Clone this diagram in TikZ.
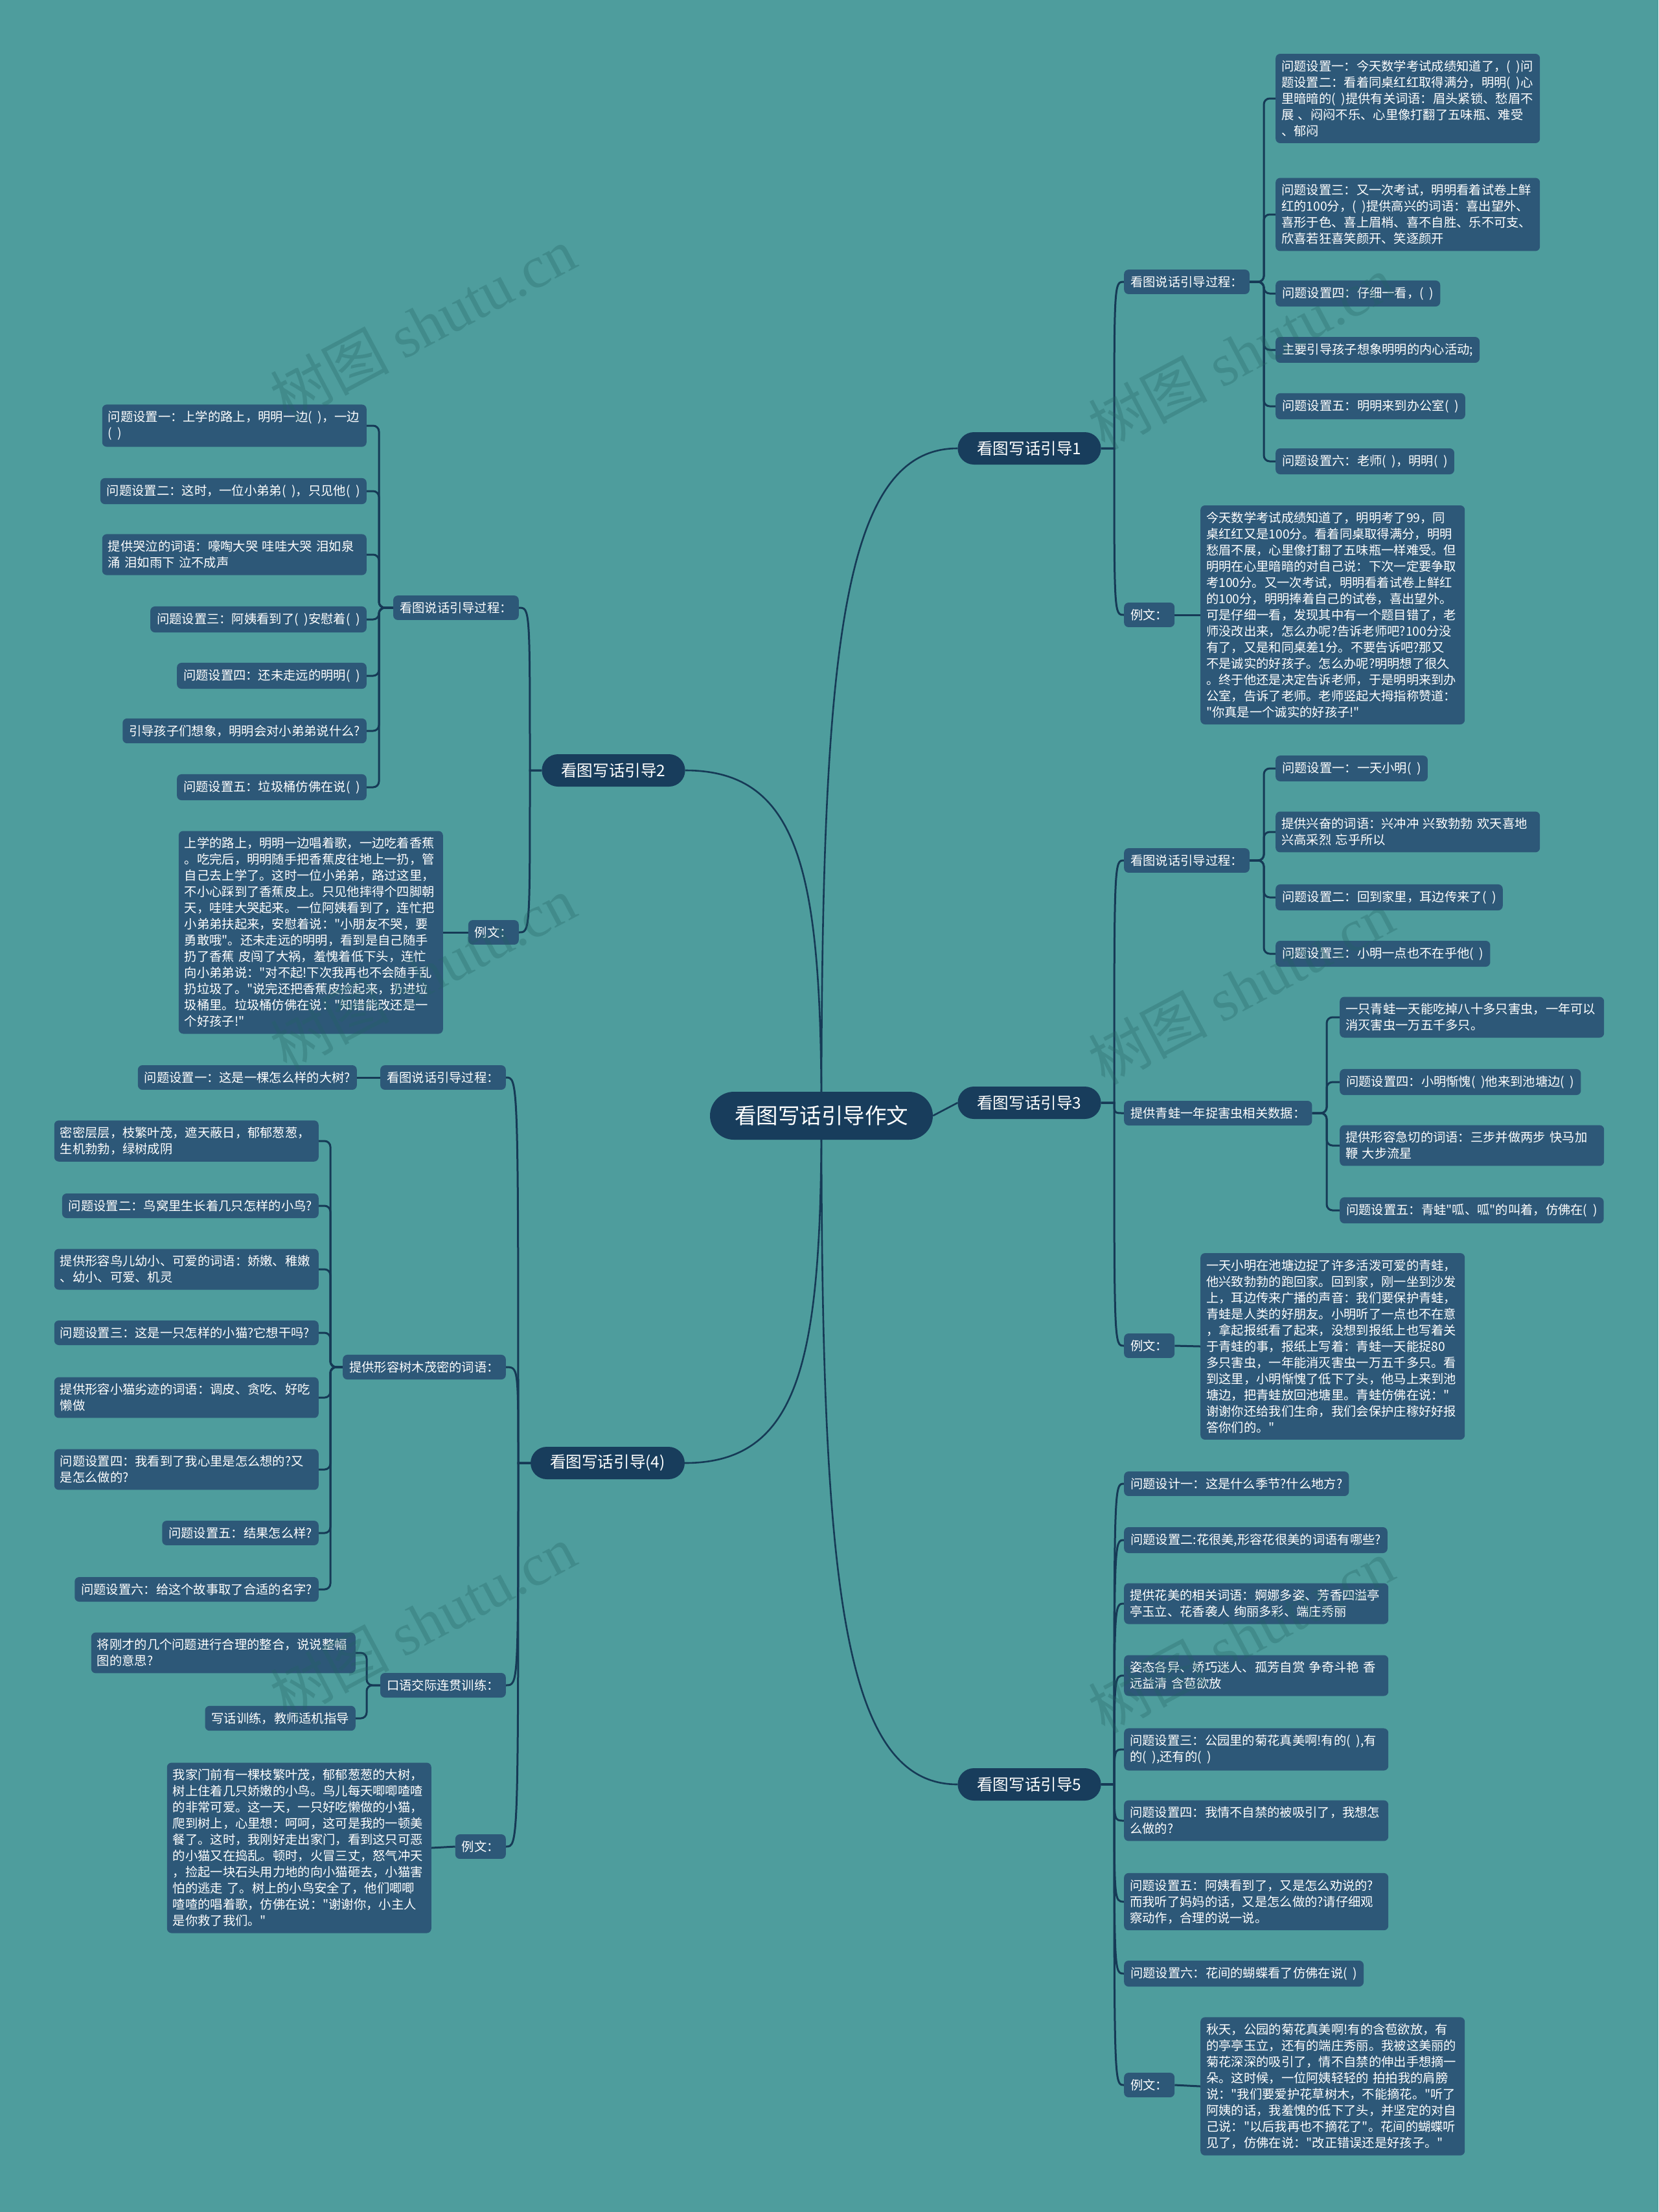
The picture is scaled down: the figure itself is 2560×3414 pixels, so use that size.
\documentclass[tikz,border=0pt]{standalone}
\usepackage{fontspec}
\newfontfamily\cjk{Noto Sans CJK SC}
\newfontfamily\wmlatin{Liberation Serif}
\usetikzlibrary{backgrounds}
\definecolor{bgc}{RGB}{78,157,157}
\definecolor{leafc}{RGB}{45,88,120}
\definecolor{darkc}{RGB}{24,61,92}
\definecolor{linec}{RGB}{22,58,86}
\definecolor{wmc}{RGB}{35,100,100}
\newcommand\lfnt{\cjk\fontsize{19.3}{25}\selectfont}
\newcommand\bfnt{\cjk\fontsize{24.6}{30}\selectfont}
\newcommand\rfnt{\cjk\fontsize{33.5}{40}\selectfont}
\newcommand\pp{(\kern0.45em)}
\begin{document}
\begin{tikzpicture}[x=1pt,y=-1pt,
  box/.style={fill=leafc, rounded corners=7pt, text=white, font=\lfnt, inner xsep=10pt, inner ysep=10pt, align=left},
  wbox/.style={box, text width=390pt, inner xsep=9pt},
  lone/.style={fill=darkc, rounded corners=25pt, text=white, font=\bfnt, inner xsep=30pt, minimum height=50pt},
  rootn/.style={fill=darkc, rounded corners=37pt, text=white, font=\rfnt, inner xsep=38pt, minimum height=74pt},
  elb/.style={draw=linec, line width=3pt, rounded corners=9pt},
  crv/.style={draw=linec, line width=3pt},
  mainc/.style={draw=linec, line width=2.6pt},
  wm/.style={text=wmc, opacity=0.3, rotate=28, font=\cjk\fontsize{92}{96}\selectfont}
]
\begin{scope}[on background layer]
\fill[bgc] (0,0) rectangle (2560,3414);
\end{scope}
\useasboundingbox (0,0) rectangle (2560,3414);

% root and level 1
\node[rootn] (root) at (1268,1722) {看图写话引导作文};
\node[lone] (g1) at (1589,692) {看图写话引导1};
\node[lone] (g3) at (1589,1702) {看图写话引导3};
\node[lone] (g5) at (1589,2754) {看图写话引导5};
\node[lone] (g2) at (947,1189) {看图写话引导2};
\node[lone] (g4) at (938,2258) {看图写话引导(4)};

% ---------- branch 1 ----------
\node[box, anchor=west] (g1a) at (1735,435) {看图说话引导过程：};
\node[box, anchor=west] (g1b) at (1735,949) {例文：};
\node[wbox, anchor=west] (a1) at (1969,152) {问题设置一：今天数学考试成绩知道了，\pp 问\\题设置二：看着同桌红红取得满分，明明\pp 心\\里暗暗的\pp 提供有关词语：眉头紧锁、愁眉不\\展~、闷闷不乐、心里像打翻了五味瓶、难受\\、郁闷};
\node[wbox, anchor=west] (a2) at (1969,331) {问题设置三：又一次考试，明明看着试卷上鲜\\红的100分，\pp 提供高兴的词语：喜出望外、\\喜形于色、喜上眉梢、喜不自胜、乐不可支、\\欣喜若狂喜笑颜开、笑逐颜开};
\node[box, anchor=west] (a3) at (1969,453) {问题设置四：仔细一看，\pp};
\node[box, anchor=west] (a4) at (1969,540) {主要引导孩子想象明明的内心活动;};
\node[box, anchor=west] (a5) at (1969,627) {问题设置五：明明来到办公室\pp};
\node[box, anchor=west] (a6) at (1969,712) {问题设置六：老师\pp，明明\pp};
\node[wbox, anchor=west] (e1) at (1853,949) {今天数学考试成绩知道了，明明考了99，同\\桌红红又是100分。看着同桌取得满分，明明\\愁眉不展，心里像打翻了五味瓶一样难受。但\\明明在心里暗暗的对自己说：下次一定要争取\\考100分。又一次考试，明明看着试卷上鲜红\\的100分，明明捧着自己的试卷，喜出望外。\\可是仔细一看，发现其中有一个题目错了，老\\师没改出来，怎么办呢?告诉老师吧?100分没\\有了，又是和同桌差1分。不要告诉吧?那又\\不是诚实的好孩子。怎么办呢?明明想了很久\\。终于他还是决定告诉老师，于是明明来到办\\公室，告诉了老师。老师竖起大拇指称赞道：\\"你真是一个诚实的好孩子!"};

% ---------- branch 3 ----------
\node[box, anchor=west] (g3a) at (1735,1328) {看图说话引导过程：};
\node[box, anchor=west] (g3b) at (1735,1718) {提供青蛙一年捉害虫相关数据：};
\node[box, anchor=west] (g3c) at (1735,2077) {例文：};
\node[box, anchor=west] (c1) at (1969,1186) {问题设置一：一天小明\pp};
\node[wbox, anchor=west] (c2) at (1969,1284) {提供兴奋的词语：兴冲冲~兴致勃勃~欢天喜地\\兴高采烈~忘乎所以};
\node[box, anchor=west] (c3) at (1969,1385) {问题设置二：回到家里，耳边传来了\pp};
\node[box, anchor=west] (c4) at (1969,1472) {问题设置三：小明一点也不在乎他\pp};
\node[wbox, anchor=west] (d1) at (2068,1570) {一只青蛙一天能吃掉八十多只害虫，一年可以\\消灭害虫一万五千多只。};
\node[box, anchor=west] (d2) at (2068,1670) {问题设置四：小明惭愧\pp 他来到池塘边\pp};
\node[wbox, anchor=west] (d3) at (2068,1768) {提供形容急切的词语：三步并做两步~快马加\\鞭~大步流星};
\node[box, anchor=west] (d4) at (2068,1868) {问题设置五：青蛙"呱、呱"的叫着，仿佛在\pp};
\node[wbox, anchor=west] (e3) at (1853,2078) {一天小明在池塘边捉了许多活泼可爱的青蛙，\\他兴致勃勃的跑回家。回到家，刚一坐到沙发\\上，耳边传来广播的声音：我们要保护青蛙，\\青蛙是人类的好朋友。小明听了一点也不在意\\，拿起报纸看了起来，没想到报纸上也写着关\\于青蛙的事，报纸上写着：青蛙一天能捉80\\多只害虫，一年能消灭害虫一万五千多只。看\\到这里，小明惭愧了低下了头，他马上来到池\\塘边，把青蛙放回池塘里。青蛙仿佛在说："\\谢谢你还给我们生命，我们会保护庄稼好好报\\答你们的。"};

% ---------- branch 5 ----------
\node[box, anchor=west] (f1) at (1735,2290) {问题设计一：这是什么季节?什么地方?};
\node[box, anchor=west] (f2) at (1735,2377) {问题设置二:花很美,形容花很美的词语有哪些?};
\node[wbox, anchor=west] (f3) at (1735,2475) {提供花美的相关词语：婀娜多姿、芳香四溢亭\\亭玉立、花香袭人~绚丽多彩、端庄秀丽};
\node[wbox, anchor=west] (f4) at (1735,2586) {姿态各异、娇巧迷人、孤芳自赏~争奇斗艳~香\\远益清~含苞欲放};
\node[wbox, anchor=west] (f5) at (1735,2700) {问题设置三：公园里的菊花真美啊!有的\pp,有\\的\pp,还有的\pp};
\node[wbox, anchor=west] (f6) at (1735,2810) {问题设置四：我情不自禁的被吸引了，我想怎\\么做的?};
\node[wbox, anchor=west] (f7) at (1735,2935) {问题设置五：阿姨看到了，又是怎么劝说的?\\而我听了妈妈的话，又是怎么做的?请仔细观\\察动作，合理的说一说。};
\node[box, anchor=west] (f8) at (1735,3046) {问题设置六：花间的蝴蝶看了仿佛在说\pp};
\node[box, anchor=west] (f9) at (1735,3218) {例文：};
\node[wbox, anchor=west] (e5) at (1853,3220) {秋天，公园的菊花真美啊!有的含苞欲放，有\\的亭亭玉立，还有的端庄秀丽。我被这美丽的\\菊花深深的吸引了，情不自禁的伸出手想摘一\\朵。这时候，一位阿姨轻轻的~拍拍我的肩膀\\说："我们要爱护花草树木，不能摘花。"听了\\阿姨的话，我羞愧的低下了头，并坚定的对自\\己说："以后我再也不摘花了"。花间的蝴蝶听\\见了，仿佛在说："改正错误还是好孩子。"};

% ---------- branch 2 ----------
\node[box, anchor=east] (g2a) at (801,938) {看图说话引导过程：};
\node[box, anchor=east] (g2b) at (801,1439) {例文：};
\node[wbox, anchor=east] (l1) at (566,657) {问题设置一：上学的路上，明明一边\pp，一边\\\pp};
\node[box, anchor=east] (l2) at (566,758) {问题设置二：这时，一位小弟弟\pp，只见他\pp};
\node[wbox, anchor=east] (l3) at (566,856) {提供哭泣的词语：嚎啕大哭~哇哇大哭~泪如泉\\涌~泪如雨下~泣不成声};
\node[box, anchor=east] (l4) at (566,956) {问题设置三：阿姨看到了\pp 安慰着\pp};
\node[box, anchor=east] (l5) at (566,1043) {问题设置四：还未走远的明明\pp};
\node[box, anchor=east] (l6) at (566,1128) {引导孩子们想象，明明会对小弟弟说什么?};
\node[box, anchor=east] (l7) at (566,1215) {问题设置五：垃圾桶仿佛在说\pp};
\node[wbox, anchor=east] (e2) at (684,1439) {上学的路上，明明一边唱着歌，一边吃着香蕉\\。吃完后，明明随手把香蕉皮往地上一扔，管\\自己去上学了。这时一位小弟弟，路过这里，\\不小心踩到了香蕉皮上。只见他摔得个四脚朝\\天，哇哇大哭起来。一位阿姨看到了，连忙把\\小弟弟扶起来，安慰着说："小朋友不哭，要\\勇敢哦"。还未走远的明明，看到是自己随手\\扔了香蕉~皮闯了大祸，羞愧着低下头，连忙\\向小弟弟说："对不起!下次我再也不会随手乱\\扔垃圾了。"说完还把香蕉皮捡起来，扔进垃\\圾桶里。垃圾桶仿佛在说："知错能改还是一\\个好孩子!"};

% ---------- branch 4 ----------
\node[box, anchor=east] (g4a) at (781,1663) {看图说话引导过程：};
\node[box, anchor=east] (g4b) at (781,2110) {提供形容树木茂密的词语：};
\node[box, anchor=east] (g4c) at (781,2601) {口语交际连贯训练：};
\node[box, anchor=east] (g4d) at (781,2850) {例文：};
\node[box, anchor=east] (q1) at (551,1663) {问题设置一：这是一棵怎么样的大树?};
\node[wbox, anchor=east] (t1) at (492,1761) {密密层层，枝繁叶茂，遮天蔽日，郁郁葱葱，\\生机勃勃，绿树成阴};
\node[box, anchor=east] (t2) at (492,1861) {问题设置二：鸟窝里生长着几只怎样的小鸟?};
\node[wbox, anchor=east] (t3) at (492,1959) {提供形容鸟儿幼小、可爱的词语：娇嫩、稚嫩\\、幼小、可爱、机灵};
\node[wbox, anchor=east] (t4) at (492,2057) {问题设置三：这是一只怎样的小猫?它想干吗?};
\node[wbox, anchor=east] (t5) at (492,2157) {提供形容小猫劣迹的词语：调皮、贪吃、好吃\\懒做};
\node[wbox, anchor=east] (t6) at (492,2268) {问题设置四：我看到了我心里是怎么想的?又\\是怎么做的?};
\node[box, anchor=east] (t7) at (492,2366) {问题设置五：结果怎么样?};
\node[box, anchor=east] (t8) at (492,2453) {问题设置六：给这个故事取了合适的名字?};
\node[wbox, anchor=east] (k1) at (549,2551) {将刚才的几个问题进行合理的整合，说说整幅\\图的意思?};
\node[box, anchor=east] (k2) at (549,2652) {写话训练，教师适机指导};
\node[wbox, anchor=east] (e4) at (666,2852) {我家门前有一棵枝繁叶茂，郁郁葱葱的大树，\\树上住着几只娇嫩的小鸟。鸟儿每天唧唧喳喳\\的非常可爱。这一天，一只好吃懒做的小猫，\\爬到树上，心里想：呵呵，这可是我的一顿美\\餐了。这时，我刚好走出家门，看到这只可恶\\的小猫又在捣乱。顿时，火冒三丈，怒气冲天\\，捡起一块石头用力地的向小猫砸去，小猫害\\怕的逃走~了。树上的小鸟安全了，他们唧唧\\喳喳的唱着歌，仿佛在说："谢谢你，小主人\\是你救了我们。"};

% ---------- connectors ----------
\begin{scope}[on background layer]
\draw[mainc] (root.center) .. controls (1268,1001) and (1300,692) .. (g1.west);
\draw[mainc] (root.center) .. controls (1268,2444) and (1300,2754) .. (g5.west);
\draw[mainc] (root.east) -- (g3.west);
\draw[mainc] (root.center) .. controls (1268,1349) and (1236,1189) .. (g2.east);
\draw[mainc] (root.center) .. controls (1268,2097) and (1236,2258) .. (g4.east);

% branch 1
\draw[crv] (g1.east) -- (1720,692) .. controls (1720,435) .. (g1a.west);
\draw[crv] (g1.east) -- (1720,692) .. controls (1720,949) .. (g1b.west);
\foreach \n in {a1,a2,a3,a4,a5,a6} \draw[elb] (g1a.east) -- (1951,435) |- (\n.west);
\draw[crv] (g1b.east) -- (e1.west);

% branch 3
\draw[crv] (g3.east) -- (1720,1702) .. controls (1720,1328) .. (g3a.west);
\draw[crv] (g3.east) -- (1720,1702) .. controls (1720,1718) .. (g3b.west);
\draw[crv] (g3.east) -- (1720,1702) .. controls (1720,2077) .. (g3c.west);
\foreach \n in {c1,c2,c3,c4} \draw[elb] (g3a.east) -- (1951,1328) |- (\n.west);
\foreach \n in {d1,d2,d3,d4} \draw[elb] (g3b.east) -- (2048,1718) |- (\n.west);
\draw[crv] (g3c.east) -- (e3.west);

% branch 5
\foreach \n/\y in {f1/2290,f2/2377,f3/2475,f4/2586,f5/2700,f6/2810,f7/2935,f8/3046,f9/3218}
  \draw[crv] (g5.east) -- (1720,2754) .. controls (1720,\y) .. (\n.west);
\draw[crv] (f9.east) -- (e5.west);

% branch 2
\draw[crv] (g2.west) -- (818,1189) .. controls (818,938) .. (g2a.east);
\draw[crv] (g2.west) -- (818,1189) .. controls (818,1439) .. (g2b.east);
\foreach \n in {l1,l2,l3,l4,l5,l6,l7} \draw[elb] (g2a.west) -- (585,938) |- (\n.east);
\draw[crv] (g2b.west) -- (e2.east);

% branch 4
\foreach \n/\y in {g4a/1663,g4b/2110,g4c/2601,g4d/2850}
  \draw[crv] (g4.west) -- (800,2258) .. controls (800,\y) .. (\n.east);
\draw[crv] (g4a.west) -- (q1.east);
\foreach \n in {t1,t2,t3,t4,t5,t6,t7,t8} \draw[elb] (g4b.west) -- (510,2110) |- (\n.east);
\foreach \n in {k1,k2} \draw[elb] (g4c.west) -- (566,2601) |- (\n.east);
\draw[crv] (g4d.west) -- (e4.east);
\end{scope}

% watermarks
\begin{scope}
\clip (0,0) rectangle (2560,3414);
\foreach \x/\y in {653/500,1916/544,653/1502,1916/1524,653/2503,1916/2525}
  \node[wm] at (\x,\y) {树图~{\wmlatin shutu.cn}};
\end{scope}
\end{tikzpicture}
\end{document}
